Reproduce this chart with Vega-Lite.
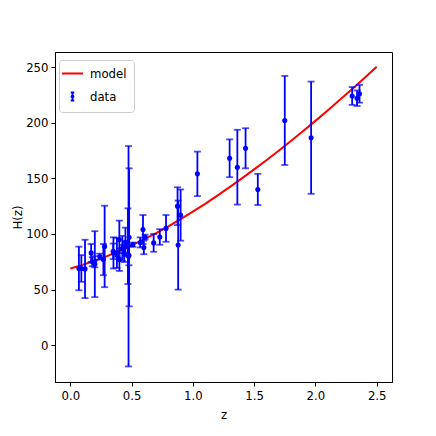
{
  "$schema": "https://vega.github.io/schema/vega-lite/v6.json",
  "autosize": "none",
  "padding": {"left": 55, "top": 52, "right": 44, "bottom": 54},
  "width": 337,
  "height": 330,
  "background": "white",
  "config": {
    "view": {"stroke": "black", "strokeWidth": 1},
    "font": "DejaVu Sans Condensed",
    "axis": {
      "grid": false,
      "labelFont": "DejaVu Sans Condensed",
      "labelFontSize": 13,
      "labelColor": "black",
      "titleFont": "DejaVu Sans Condensed",
      "titleFontSize": 13,
      "titleFontWeight": "normal",
      "titleColor": "black",
      "domainColor": "black",
      "tickColor": "black",
      "tickSize": 4,
      "labelPadding": 3
    }
  },
  "datasets": {
    "obs": [
      {"z": 0.07, "H": 69, "err": 19.6},
      {"z": 0.09, "H": 69, "err": 12},
      {"z": 0.12, "H": 68.6, "err": 26.2},
      {"z": 0.17, "H": 83, "err": 8},
      {"z": 0.179, "H": 75, "err": 4},
      {"z": 0.199, "H": 75, "err": 5},
      {"z": 0.2, "H": 72.9, "err": 29.6},
      {"z": 0.24, "H": 79.69, "err": 2.65},
      {"z": 0.27, "H": 77, "err": 14},
      {"z": 0.28, "H": 88.8, "err": 36.6},
      {"z": 0.35, "H": 84.4, "err": 7},
      {"z": 0.352, "H": 83, "err": 14},
      {"z": 0.38, "H": 81.5, "err": 1.9},
      {"z": 0.3802, "H": 83, "err": 13.5},
      {"z": 0.4, "H": 95, "err": 17},
      {"z": 0.4004, "H": 77, "err": 10.2},
      {"z": 0.4247, "H": 87.1, "err": 11.2},
      {"z": 0.43, "H": 86.45, "err": 3.68},
      {"z": 0.44, "H": 82.6, "err": 7.8},
      {"z": 0.4497, "H": 92.8, "err": 12.9},
      {"z": 0.47, "H": 89, "err": 34},
      {"z": 0.475, "H": 80, "err": 99},
      {"z": 0.4783, "H": 80.9, "err": 9},
      {"z": 0.48, "H": 97, "err": 62},
      {"z": 0.51, "H": 90.4, "err": 1.9},
      {"z": 0.57, "H": 92.4, "err": 4.5},
      {"z": 0.593, "H": 104, "err": 13},
      {"z": 0.6, "H": 87.9, "err": 6.1},
      {"z": 0.61, "H": 97.3, "err": 2.1},
      {"z": 0.68, "H": 92, "err": 8},
      {"z": 0.73, "H": 97.3, "err": 7},
      {"z": 0.781, "H": 105, "err": 12},
      {"z": 0.875, "H": 125, "err": 17},
      {"z": 0.88, "H": 90, "err": 40},
      {"z": 0.9, "H": 117, "err": 23},
      {"z": 1.037, "H": 154, "err": 20},
      {"z": 1.3, "H": 168, "err": 17},
      {"z": 1.363, "H": 160, "err": 33.6},
      {"z": 1.43, "H": 177, "err": 18},
      {"z": 1.53, "H": 140, "err": 14},
      {"z": 1.75, "H": 202, "err": 40},
      {"z": 1.965, "H": 186.5, "err": 50.4},
      {"z": 2.3, "H": 224, "err": 8},
      {"z": 2.34, "H": 222, "err": 7},
      {"z": 2.36, "H": 226, "err": 8}
    ],
    "model": [
      {"z": 0.0, "H": 69.0, "series": "model"},
      {"z": 0.1, "H": 72.2, "series": "model"},
      {"z": 0.2, "H": 75.9, "series": "model"},
      {"z": 0.3, "H": 80.1, "series": "model"},
      {"z": 0.4, "H": 84.7, "series": "model"},
      {"z": 0.5, "H": 89.7, "series": "model"},
      {"z": 0.6, "H": 95.1, "series": "model"},
      {"z": 0.7, "H": 100.8, "series": "model"},
      {"z": 0.8, "H": 106.9, "series": "model"},
      {"z": 0.9, "H": 113.4, "series": "model"},
      {"z": 1.0, "H": 120.1, "series": "model"},
      {"z": 1.1, "H": 127.1, "series": "model"},
      {"z": 1.2, "H": 134.5, "series": "model"},
      {"z": 1.3, "H": 142.1, "series": "model"},
      {"z": 1.4, "H": 149.9, "series": "model"},
      {"z": 1.5, "H": 158.0, "series": "model"},
      {"z": 1.6, "H": 166.3, "series": "model"},
      {"z": 1.7, "H": 174.8, "series": "model"},
      {"z": 1.8, "H": 183.5, "series": "model"},
      {"z": 1.9, "H": 192.5, "series": "model"},
      {"z": 2.0, "H": 201.6, "series": "model"},
      {"z": 2.1, "H": 211.0, "series": "model"},
      {"z": 2.2, "H": 220.5, "series": "model"},
      {"z": 2.3, "H": 230.2, "series": "model"},
      {"z": 2.4, "H": 240.1, "series": "model"},
      {"z": 2.5, "H": 250.2, "series": "model"}
    ]
  },
  "encoding": {
    "x": {
      "field": "z", "type": "quantitative",
      "scale": {"domain": [-0.125, 2.625], "nice": false, "zero": false},
      "axis": {"values": [0, 0.5, 1, 1.5, 2, 2.5], "format": ".1f", "title": "z", "titlePadding": 6}
    },
    "y": {
      "field": "H", "type": "quantitative",
      "scale": {"domain": [-33, 263.5], "nice": false, "zero": false},
      "axis": {"values": [0, 50, 100, 150, 200, 250], "format": "d", "title": "H(z)", "titlePadding": 1}
    }
  },
  "layer": [
    {
      "data": {"name": "model"},
      "mark": {"type": "line", "strokeWidth": 2, "clip": true},
      "encoding": {
        "color": {
          "field": "series", "type": "nominal",
          "scale": {"domain": ["model", "data"], "range": ["#ff0000", "#0000ff"]},
          "legend": {
            "title": null,
            "orient": "none",
            "legendX": 4,
            "legendY": 8,
            "fillColor": "white",
            "strokeColor": "#cccccc",
            "cornerRadius": 3,
            "padding": 7,
            "rowPadding": 7,
            "labelFont": "DejaVu Sans Condensed",
            "labelFontSize": 13,
            "labelColor": "black",
            "symbolStrokeWidth": 2,
            "labelOffset": 11,
            "encode": {
              "symbols": {
                "update": {
                  "shape": {"signal": "datum.label == 'model' ? 'stroke' : 'M0,-0.5V0.5M-0.22,-0.5H0.22M-0.22,0.5H0.22M0.13,0A0.13,0.13,0,1,1,-0.13,0A0.13,0.13,0,1,1,0.13,0'"},
                  "size": {"signal": "datum.label == 'model' ? 441 : 256"},
                  "fill": {"signal": "datum.label == 'model' ? 'transparent' : '#0000ff'"},
                  "strokeWidth": {"signal": "datum.label == 'model' ? 2 : 1.8"}
                }
              }
            }
          }
        }
      }
    },
    {
      "data": {"name": "obs"},
      "mark": {
        "type": "errorbar",
        "color": "#0000ff",
        "ticks": {"size": 7, "thickness": 1.8, "color": "#0000ff"},
        "rule": {"strokeWidth": 1.8, "color": "#0000ff"}
      },
      "encoding": {
        "yError": {"field": "err"}
      }
    },
    {
      "data": {"name": "obs"},
      "mark": {"type": "point", "filled": true, "color": "#0000ff", "size": 26, "opacity": 1}
    }
  ]
}
